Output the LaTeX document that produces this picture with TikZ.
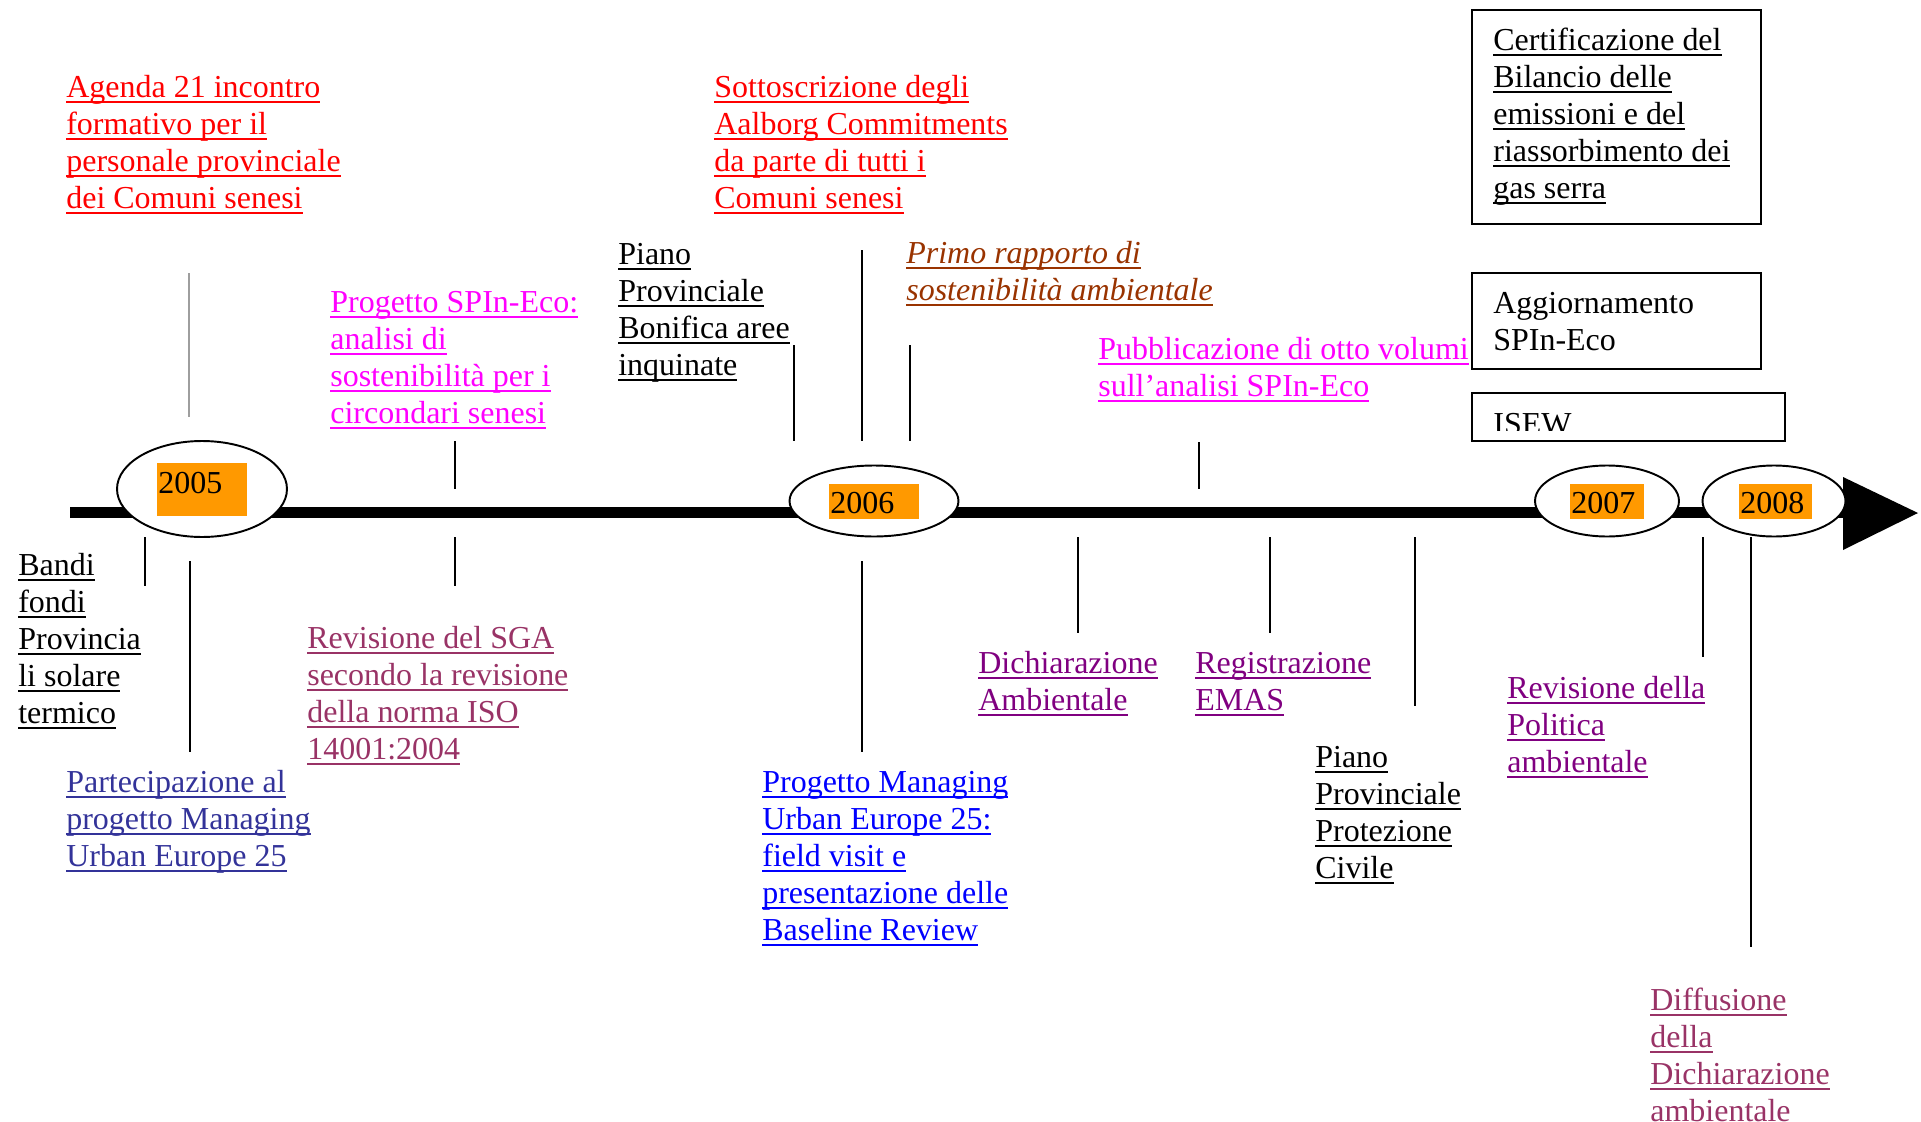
\documentclass[tikz,border=0pt]{standalone}
\usepackage{fontspec}
\setmainfont{Liberation Serif}
\usetikzlibrary{shapes.geometric}
\definecolor{evred}{HTML}{FF0000}
\definecolor{evmagenta}{HTML}{FF00FF}
\definecolor{evbrown}{HTML}{993300}
\definecolor{evplum}{HTML}{993366}
\definecolor{evpurple}{HTML}{800080}
\definecolor{evnavy}{HTML}{333399}
\definecolor{evblue}{HTML}{0000FF}
\definecolor{yearorange}{HTML}{FF9900}
\newcommand{\evsize}{\fontsize{18.2}{21.06}\selectfont}
\newsavebox{\evbox}
\newcommand{\evul}[1]{\sbox{\evbox}{#1}\strut\rlap{\rule[-3.4pt]{\wd\evbox}{1.1pt}}\usebox{\evbox}}
\begin{document}
\begin{tikzpicture}[%
            x=0.02cm, y=-0.02cm,
            evtext/.style={font=\evsize, align=left, inner sep=0pt, anchor=north west,
                yshift=14.742pt, execute at begin node=\strut},
            tick/.style={line width=1.1pt},
            yearring/.style={shape=ellipse, draw, fill=white, line width=1.1pt, inner sep=0pt},
            yearfill/.style={fill=yearorange},
            infobox/.style={draw, line width=1.1pt}
    ]
        \useasboundingbox (0,0) rectangle (1921,1122);

        % asse dei tempi
        \draw [line width=6.26pt] (70,512) -- (1846,512);
        \fill (1843,477) -- (1918,513) -- (1843,550) -- cycle;

        \node [yearring, minimum width=3.4cm, minimum height=1.92cm] (y2005) at (202,489) {};
        \node [yearring, minimum width=3.38cm, minimum height=1.42cm] (y2006) at (874,501) {};
        \node [yearring, minimum width=2.88cm, minimum height=1.42cm] (y2007) at (1607,501) {};
        \node [yearring, minimum width=2.86cm, minimum height=1.42cm] (y2008) at (1774,501) {};
        \fill [yearfill] (157,463) rectangle (247,516);
        \fill [yearfill] (829,484) rectangle (919,519);
        \fill [yearfill] (1570,484) rectangle (1644,519);
        \fill [yearfill] (1739,484) rectangle (1812,519);
        \node [evtext] (t2005) at (158,493) {2005};
        \node [evtext] (t2006) at (830,513) {2006};
        \node [evtext] (t2007) at (1571,513) {2007};
        \node [evtext] (t2008) at (1740,513) {2008};

        % tacche
        \draw [line width=0.6pt, color=black!38] (189,273) -- (189,417);
        \draw [tick] (145,537) -- (145,586);
        \draw [tick] (190,561) -- (190,752);
        \draw [tick] (455,441) -- (455,489);
        \draw [tick] (455,537) -- (455,586);
        \draw [tick] (794,345) -- (794,441);
        \draw [tick] (862,250) -- (862,441);
        \draw [tick] (910,345) -- (910,441);
        \draw [tick] (862,561) -- (862,752);
        \draw [tick] (1078,537) -- (1078,633);
        \draw [tick] (1199,442) -- (1199,489);
        \draw [tick] (1270,537) -- (1270,633);
        \draw [tick] (1415,537) -- (1415,706);
        \draw [tick] (1703,537) -- (1703,657);
        \draw [tick] (1751,537) -- (1751,947);

        % eventi sopra
        \node [evtext, text=evred] (agenda) at (66,97)
            {\evul{Agenda 21 incontro}\\\evul{formativo per il}\\\evul{personale provinciale}\\\evul{dei Comuni senesi}};
        \node [evtext, text=evred] (aalborg) at (714,97)
            {\evul{Sottoscrizione degli}\\\evul{Aalborg Commitments}\\\evul{da parte di tutti i}\\\evul{Comuni senesi}};
        \node [evtext, text=evmagenta] (spineco) at (330,312)
            {\evul{Progetto SPIn-Eco:}\\\evul{analisi di}\\\evul{sostenibilità per i}\\\evul{circondari senesi}};
        \node [evtext] (bonifica) at (618,264)
            {\evul{Piano}\\\evul{Provinciale}\\\evul{Bonifica aree}\\\evul{inquinate}};
        \node [evtext, text=evbrown, font=\evsize\itshape] (rapporto) at (906,263)
            {\evul{Primo rapporto di}\\\evul{sostenibilità ambientale}};
        \node [evtext, text=evmagenta] (volumi) at (1098,359)
            {\evul{Pubblicazione di otto volumi}\\\evul{sull’analisi SPIn-Eco}};

        % riquadri
        \draw [infobox] (1472,10) rectangle (1761,224);
        \node [evtext] (bilancio) at (1493,50)
            {\evul{Certificazione del}\\\evul{Bilancio delle}\\\evul{emissioni e del}\\\evul{riassorbimento dei}\\\evul{gas serra}};
        \draw [infobox] (1472,273) rectangle (1761,369);
        \node [evtext] (aggiorna) at (1493,313) {\strut Aggiornamento\\SPIn-Eco};
        \begin{scope}
            \clip (1472,393) rectangle (1785,430);
            \node [evtext] (isew) at (1493,434) {ISEW};
        \end{scope}
        \draw [infobox] (1472,393) rectangle (1785,441);

        % eventi sotto
        \node [evtext] (bandi) at (18,575)
            {\evul{Bandi}\\\evul{fondi}\\\evul{Provincia}\\\evul{li solare}\\\evul{termico}};
        \node [evtext, text=evnavy] (partecipa) at (66,792)
            {\evul{Partecipazione al}\\\evul{progetto Managing}\\\evul{Urban Europe 25}};
        \node [evtext, text=evplum] (sga) at (307,648)
            {\evul{Revisione del SGA}\\\evul{secondo la revisione}\\\evul{della norma ISO}\\\evul{14001:2004}};
        \node [evtext, text=evblue] (managing) at (762,792)
            {\evul{Progetto Managing}\\\evul{Urban Europe 25:}\\\evul{field visit e}\\\evul{presentazione delle}\\\evul{Baseline Review}};
        \node [evtext, text=evpurple] (dichiara) at (978,673)
            {\evul{Dichiarazione}\\\evul{Ambientale}};
        \node [evtext, text=evpurple] (emas) at (1195,673)
            {\evul{Registrazione}\\\evul{EMAS}};
        \node [evtext] (civile) at (1315,767)
            {\evul{Piano}\\\evul{Provinciale}\\\evul{Protezione}\\\evul{Civile}};
        \node [evtext, text=evpurple] (politica) at (1507,698)
            {\evul{Revisione della}\\\evul{Politica}\\\evul{ambientale}};
        \node [evtext, text=evplum] (diffusione) at (1650,1010)
            {\evul{Diffusione}\\\evul{della}\\\evul{Dichiarazione}\\\evul{ambientale}};
    \end{tikzpicture}
\end{document}
